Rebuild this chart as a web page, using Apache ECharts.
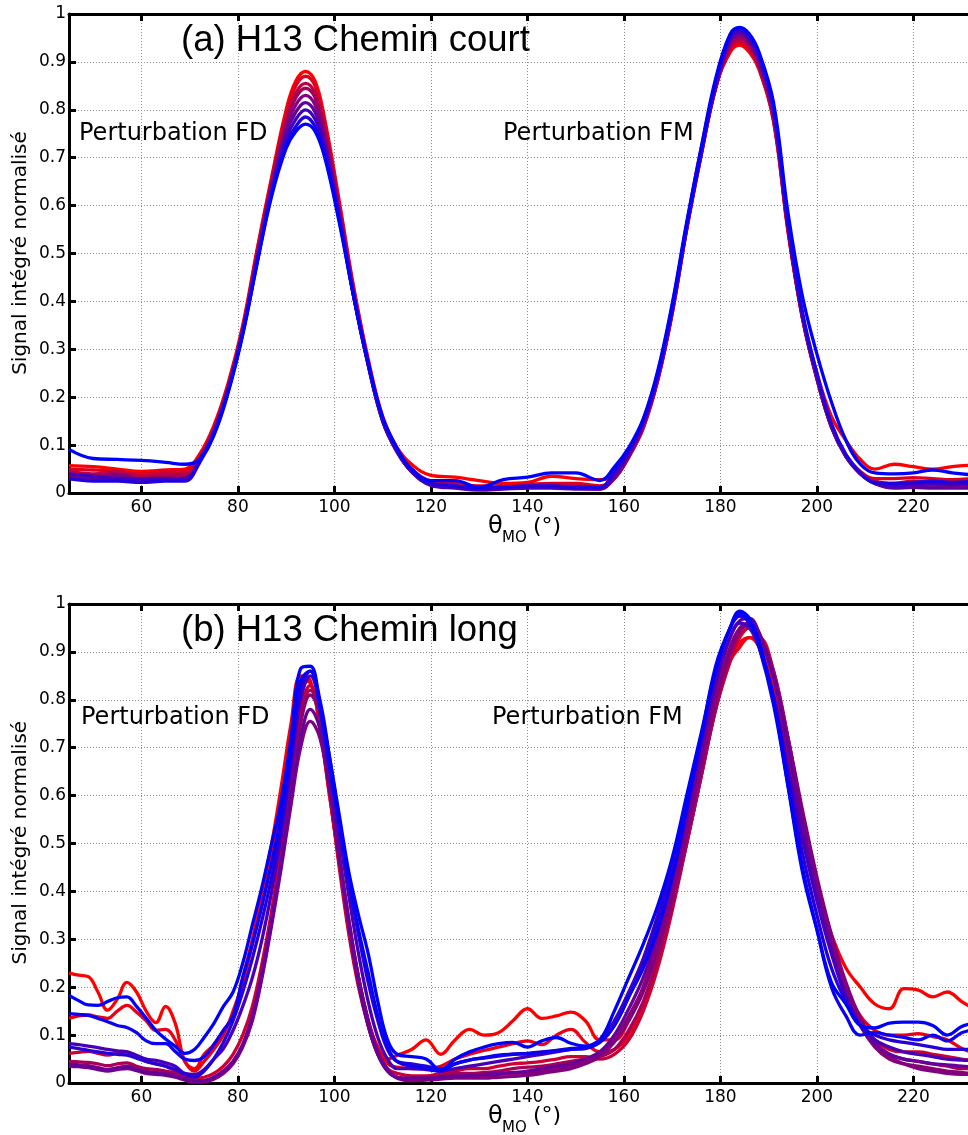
<!DOCTYPE html>
<html><head><meta charset="utf-8">
<script src="https://cdn.jsdelivr.net/npm/echarts@6/dist/echarts.min.js"></script>
<style>html,body{margin:0;padding:0;background:#fff}#c{width:968px;height:1135px}</style>
</head><body><div id="c"></div>
<script>
// ---------- DATA ----------
const XTICKS = [60, 80, 100, 120, 140, 160, 180, 200, 220];
const YTICKS = [0, 0.1, 0.2, 0.3, 0.4, 0.5, 0.6, 0.7, 0.8, 0.9, 1];

// (a) H13 Chemin court : angle samples
const XA = [45,50,55,60,65,69,72,75,78,81,84,87,90,92,94,96,98,101,104,107,110,113,116,120,125,130,135,140,145,150,155,158,161,164,167,170,173,176,179,182,184,186,188,191,194,197,200,203,206,209,212,216,220,224,228,232];
const A0 = [.057,.055,.05,.045,.048,.05,.08,.14,.23,.35,.51,.66,.80,.86,.88,.86,.78,.61,.43,.28,.16,.095,.06,.037,.033,.026,.02,.022,.035,.03,.028,.035,.08,.14,.24,.38,.56,.72,.85,.92,.935,.92,.885,.78,.55,.37,.25,.16,.11,.07,.05,.06,.055,.05,.055,.058];
const A1 = [.05,.048,.045,.04,.045,.045,.075,.135,.225,.345,.505,.655,.79,.85,.87,.85,.77,.60,.425,.275,.155,.09,.05,.025,.02,.015,.015,.018,.02,.02,.015,.03,.075,.135,.235,.375,.555,.715,.845,.925,.94,.925,.885,.775,.545,.365,.24,.14,.08,.045,.03,.03,.032,.03,.028,.03];
const A2 = [.045,.04,.045,.035,.04,.04,.072,.132,.222,.343,.50,.65,.78,.835,.855,.835,.76,.595,.42,.272,.153,.088,.048,.022,.018,.012,.012,.015,.018,.015,.012,.03,.075,.137,.235,.375,.55,.71,.845,.93,.945,.93,.89,.78,.55,.365,.238,.138,.078,.042,.025,.02,.025,.022,.02,.02];
const A3 = [.04,.035,.04,.03,.035,.035,.07,.13,.22,.34,.495,.645,.77,.825,.845,.825,.75,.59,.415,.27,.152,.087,.046,.02,.015,.01,.01,.012,.015,.012,.01,.03,.077,.14,.237,.377,.55,.705,.845,.935,.95,.935,.895,.785,.552,.365,.238,.137,.076,.04,.022,.015,.018,.015,.015,.015];
const A4 = [.035,.03,.038,.028,.03,.03,.068,.128,.218,.338,.49,.64,.76,.81,.83,.81,.74,.585,.412,.268,.15,.086,.045,.018,.012,.008,.01,.012,.012,.01,.008,.032,.078,.142,.24,.38,.552,.705,.848,.94,.955,.94,.9,.79,.555,.368,.24,.138,.076,.04,.02,.012,.015,.012,.012,.012];
const A5 = [.03,.028,.032,.025,.028,.028,.066,.126,.216,.336,.487,.635,.75,.795,.815,.795,.73,.58,.41,.267,.15,.085,.044,.016,.01,.006,.008,.01,.01,.008,.008,.035,.08,.145,.243,.383,.555,.707,.85,.945,.96,.945,.905,.795,.558,.37,.242,.14,.077,.04,.02,.01,.012,.01,.01,.01];
const A6 = [.04,.035,.03,.03,.03,.03,.065,.125,.215,.335,.485,.63,.74,.78,.80,.78,.72,.575,.41,.268,.152,.087,.045,.018,.012,.008,.01,.012,.012,.01,.01,.04,.085,.148,.245,.385,.555,.71,.855,.95,.965,.95,.91,.80,.562,.373,.245,.142,.078,.04,.02,.015,.018,.02,.018,.02];
const A7 = [.03,.025,.025,.022,.025,.025,.062,.122,.213,.333,.482,.625,.73,.765,.785,.765,.71,.57,.41,.27,.155,.09,.047,.02,.015,.01,.012,.015,.015,.012,.012,.045,.09,.152,.25,.39,.56,.715,.86,.955,.97,.955,.915,.805,.567,.377,.25,.145,.08,.042,.022,.02,.022,.025,.022,.025];
const A8 = [.091,.072,.07,.068,.064,.06,.07,.12,.21,.33,.48,.62,.72,.755,.77,.755,.70,.565,.41,.272,.158,.093,.05,.026,.026,.012,.028,.033,.042,.042,.026,.054,.095,.155,.255,.395,.565,.72,.865,.958,.972,.958,.92,.815,.585,.41,.29,.19,.11,.06,.042,.04,.042,.048,.042,.038];
const TA = [0, 0.125, 0.25, 0.375, 0.5, 0.625, 0.75, 0.875, 1];

// (b) H13 Chemin long : angle samples
const XB = [45,47,49,51,53,55,57,59,61,63,65,67,69,
  71,73,75,77,79,81,83,85,87,89,91,93,95,97,99,101,103,105,107,109,111,113,
  116,119,122,125,128,131,134,137,140,143,146,149,152,155,158,161,
  164,167,170,173,176,179,182, 184,186,188,
  191,194,197,200,203,206,209,212,215,218,221,224,227,230, 232];
const B0 = [.23,.225,.222,.19,.152,.175,.21,.19,.15,.126,.16,.125,.045,
  .03,.06,.08,.11,.14,.22,.30,.40,.50,.62,.75,.85,.84,.74,.60,.46,.33,.22,.13,.075,.05,.058,
  .07,.09,.06,.09,.112,.10,.105,.13,.155,.135,.14,.148,.13,.09,.09,.13,
  .2,.3,.42,.55,.68,.8,.89, .92,.93,.91,
  .82,.68,.53,.40,.31,.24,.20,.165,.155,.197,.194,.18,.19,.17, .158];
const B1 = [.135,.14,.142,.138,.135,.15,.162,.148,.13,.11,.112,.09,.045,
  .025,.045,.07,.1,.15,.21,.29,.38,.48,.60,.73,.84,.835,.74,.60,.46,.33,.22,.13,.07,.04,.033,
  .03,.03,.035,.05,.06,.068,.075,.082,.088,.08,.1,.112,.085,.065,.07,.1,
  .16,.25,.37,.5,.64,.78,.88, .91,.93,.93,
  .86,.72,.56,.42,.3,.2,.14,.11,.1,.1,.103,.097,.09,.072, .065];
const B2 = [.062,.064,.066,.062,.058,.062,.065,.055,.045,.04,.035,.025,.015,
  .01,.012,.02,.035,.06,.1,.16,.25,.36,.49,.64,.78,.83,.76,.61,.45,.31,.2,.12,.06,.03,.02,
  .015,.015,.02,.025,.03,.03,.035,.04,.042,.045,.05,.055,.055,.05,.06,.09,
  .15,.24,.36,.5,.64,.78,.88, .93,.95,.93,
  .84,.70,.55,.41,.29,.2,.13,.09,.07,.065,.065,.06,.055,.05, .047];
const B3 = [.045,.044,.043,.04,.036,.04,.042,.035,.03,.028,.025,.02,.01,
  .005,.005,.012,.025,.045,.08,.14,.23,.34,.47,.62,.76,.82,.77,.63,.47,.33,.21,.12,.06,.025,.012,
  .01,.012,.015,.02,.02,.022,.025,.03,.033,.035,.04,.045,.05,.055,.07,.11,
  .17,.26,.37,.5,.64,.78,.89, .94,.96,.94,
  .86,.72,.56,.42,.3,.2,.13,.085,.06,.05,.045,.04,.035,.03, .03];
const B4 = [.04,.038,.036,.032,.028,.032,.035,.03,.025,.022,.02,.015,.008,
  .003,.004,.01,.022,.042,.078,.135,.225,.335,.465,.61,.75,.81,.77,.64,.48,.34,.22,.13,.065,.028,.012,
  .008,.01,.012,.015,.015,.015,.018,.02,.022,.025,.03,.035,.045,.06,.09,.14,
  .2,.29,.4,.53,.67,.81,.91, .95,.96,.935,
  .85,.71,.55,.41,.29,.19,.12,.075,.05,.04,.035,.03,.025,.022, .02];
const B5 = [.035,.034,.032,.028,.025,.028,.03,.026,.02,.018,.016,.012,.006,
  .002,.002,.008,.02,.04,.075,.13,.22,.33,.45,.58,.70,.755,.72,.61,.47,.34,.22,.13,.065,.028,.01,
  .005,.006,.008,.01,.01,.01,.012,.014,.016,.02,.025,.03,.04,.055,.085,.13,
  .19,.28,.39,.52,.66,.80,.9, .945,.955,.93,
  .85,.72,.57,.43,.31,.21,.135,.085,.055,.04,.03,.025,.02,.018, .018];
const B6 = [.038,.036,.034,.03,.028,.03,.032,.028,.022,.02,.018,.014,.008,
  .004,.005,.012,.025,.045,.08,.14,.23,.34,.46,.60,.72,.78,.74,.62,.47,.33,.21,.12,.06,.025,.012,
  .01,.01,.012,.014,.016,.018,.02,.022,.025,.03,.035,.04,.05,.065,.1,.155,
  .22,.31,.42,.55,.69,.83,.93, .965,.97,.94,
  .85,.70,.54,.40,.28,.185,.12,.08,.06,.05,.045,.04,.038,.035, .034];
const B7 = [.082,.08,.077,.074,.07,.067,.065,.058,.05,.047,.042,.035,.02,
  .018,.028,.05,.072,.11,.16,.22,.30,.40,.52,.66,.80,.85,.79,.66,.52,.39,.27,.17,.095,.05,.03,
  .03,.028,.025,.03,.035,.04,.045,.05,.055,.06,.065,.07,.075,.09,.13,.19,
  .26,.35,.46,.58,.71,.84,.93, .96,.95,.91,
  .81,.66,.51,.38,.27,.18,.12,.09,.075,.065,.06,.055,.05,.048, .047];
const B8 = [.075,.072,.068,.065,.062,.06,.058,.052,.045,.04,.035,.028,.018,
  .012,.025,.05,.085,.13,.19,.26,.34,.43,.54,.68,.82,.86,.80,.68,.55,.42,.31,.21,.13,.07,.045,
  .04,.035,.03,.04,.048,.052,.056,.06,.062,.065,.068,.072,.075,.085,.12,.18,
  .25,.34,.45,.58,.72,.86,.95, .98,.965,.92,
  .80,.64,.48,.35,.24,.17,.12,.1,.09,.085,.08,.075,.07,.07, .07];
const B9 = [.145,.143,.141,.135,.128,.12,.116,.105,.088,.082,.082,.066,.05,
  .047,.055,.08,.11,.14,.22,.29,.37,.46,.56,.69,.84,.86,.78,.66,.54,.42,.32,.23,.14,.075,.045,
  .035,.03,.025,.04,.048,.053,.058,.06,.061,.064,.067,.07,.072,.085,.12,.18,
  .24,.32,.43,.57,.72,.87,.95, .975,.96,.91,
  .79,.62,.45,.32,.2,.14,.1,.105,.1,.095,.09,.1,.088,.105, .11];
const B10 = [.183,.172,.163,.162,.17,.178,.18,.16,.135,.11,.092,.077,.062,
  .07,.095,.124,.16,.19,.25,.33,.41,.50,.59,.72,.865,.87,.79,.68,.56,.44,.35,.27,.17,.09,.06,
  .055,.05,.027,.05,.065,.075,.082,.085,.075,.088,.095,.083,.077,.09,.15,.22,
  .29,.37,.47,.6,.73,.86,.95, .985,.97,.92,
  .80,.62,.44,.32,.21,.165,.12,.115,.125,.127,.127,.12,.1,.118, .124];
const TB = [0, 0.08, 0.2, 0.35, 0.45, 0.5, 0.6, 0.72, 0.85, 0.95, 1];

// ---------- CHART ----------
const TOP_CURVES = [A0, A1, A2, A3, A4, A5, A6, A7, A8];
const BOT_CURVES = [B0, B1, B2, B3, B4, B5, B6, B7, B8, B9, B10];
function col(t) { return 'rgb(' + Math.round(255 * (1 - t)) + ',0,' + Math.round(255 * t) + ')'; }

const TFONT = 'DejaVu Sans';
const grids = [
  { left: 69, top: 14, width: 899, height: 479 },
  { left: 69, top: 604, width: 899, height: 479 }
];
const xAxes = [], yAxes = [];
[0, 1].forEach(g => {
  xAxes.push({
    gridIndex: g, type: 'value', min: 45, max: 231.3, position: 'bottom',
    axisLine: { onZero: false, lineStyle: { color: '#000', width: 3 } },
    axisTick: { inside: true, length: 7, customValues: XTICKS, lineStyle: { color: '#000', width: 3 } },
    axisLabel: { customValues: XTICKS, color: '#000', fontSize: 17, fontFamily: TFONT, margin: 6 },
    splitLine: { show: true, lineStyle: { type: [1, 2], color: '#8c8c8c', width: 1 } }
  });
  xAxes.push({
    gridIndex: g, type: 'value', min: 45, max: 231.3, position: 'top',
    axisLine: { onZero: false, lineStyle: { color: '#000', width: 3 } },
    axisTick: { inside: true, length: 7, customValues: XTICKS, lineStyle: { color: '#000', width: 3 } },
    axisLabel: { show: false }, splitLine: { show: false }
  });
  yAxes.push({
    gridIndex: g, type: 'value', min: 0, max: 1, interval: 0.1,
    axisLine: { show: true, onZero: false, lineStyle: { color: '#000', width: 3 } },
    axisTick: { show: true, inside: true, length: 7, lineStyle: { color: '#000', width: 3 } },
    axisLabel: { color: '#000', fontSize: 17, fontFamily: TFONT, margin: 3,
      formatter: v => (v === 0 ? '0' : v === 1 ? '1' : v.toFixed(1)) },
    splitLine: { show: true, lineStyle: { type: [1, 2], color: '#8c8c8c', width: 1 } }
  });
});

const series = [];
TOP_CURVES.forEach((arr, k) => {
  series.push({ type: 'line', xAxisIndex: 0, yAxisIndex: 0, smooth: 0.4, symbol: 'none',
    lineStyle: { width: 3.3, color: col(TA[k]) }, data: XA.map((x, i) => [x, arr[i]]) });
});
BOT_CURVES.forEach((arr, k) => {
  series.push({ type: 'line', xAxisIndex: 2, yAxisIndex: 1, smooth: 0.4, symbol: 'none',
    lineStyle: { width: 3.3, color: col(TB[k]) }, data: XB.map((x, i) => [x, arr[i]]) });
});

function txt(x, y, s, font, opts) {
  return Object.assign({ type: 'text', x: x, y: y, z: 100,
    style: { text: s, font: font, fill: '#000', textAlign: 'left', align: 'left',
      textVerticalAlign: 'middle', verticalAlign: 'middle' } }, opts || {});
}
const graphic = [];
[0, 1].forEach(g => {
  const dy = g === 0 ? 0 : 589.7;
  graphic.push(txt(181, g === 0 ? 41 : 631, g === 0 ? '(a) H13 Chemin court' : '(b) H13 Chemin long', '36.5px "Liberation Sans"'));
  graphic.push(txt(g === 0 ? 79 : 81, g === 0 ? 134 : 717.5, 'Perturbation FD', '24px "DejaVu Sans"'));
  graphic.push(txt(g === 0 ? 503 : 492, g === 0 ? 134 : 717.5, 'Perturbation FM', '24px "DejaVu Sans"'));
  graphic.push({ type: 'text', x: 21, y: 253 + dy, rotation: Math.PI / 2, z: 100,
    style: { text: 'Signal intégré normalisé', font: '20px "DejaVu Sans"', fill: '#000',
      textAlign: 'center', align: 'center', textVerticalAlign: 'middle', verticalAlign: 'middle' } });
  graphic.push(txt(488, 527 + dy, 'θ', '24px "DejaVu Sans"'));
  graphic.push(txt(502, 538 + dy, 'MO', '15px "DejaVu Sans"'));
  graphic.push(txt(533, 527 + dy, '(°)', '22px "DejaVu Sans"'));
});

const chart = echarts.init(document.getElementById('c'), null, { renderer: 'canvas' });
chart.setOption({
  animation: false, backgroundColor: '#fff',
  grid: grids, xAxis: xAxes, yAxis: yAxes, series: series, graphic: graphic
});
</script></body></html>
